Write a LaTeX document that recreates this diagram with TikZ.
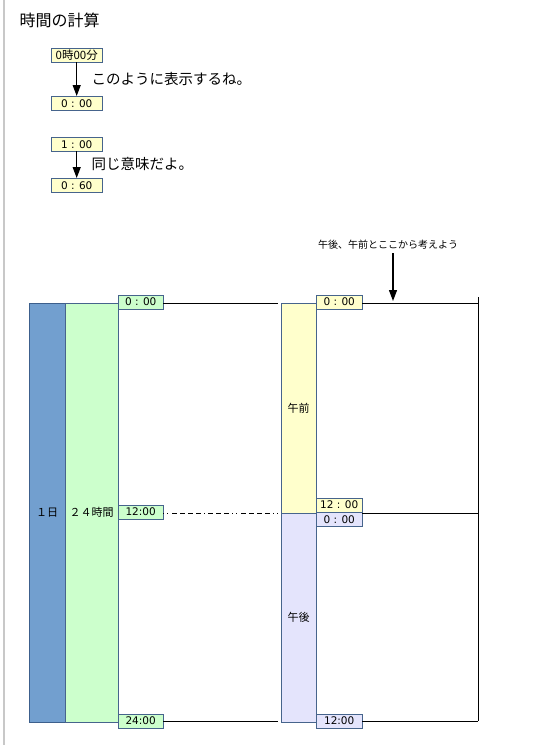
\documentclass[tikz,border=0pt]{standalone}
\usepackage{fontspec}
\setmainfont{Noto Sans CJK JP}
\newfontfamily\timefont{DejaVu Sans}
\usetikzlibrary{arrows.meta,positioning}

\definecolor{boxline}{RGB}{70,100,140}
\definecolor{daycol}{RGB}{114,159,207}
\definecolor{dayline}{RGB}{60,95,140}
\definecolor{hourcol}{RGB}{204,255,204}
\definecolor{amcol}{RGB}{255,255,204}
\definecolor{pmcol}{RGB}{228,228,252}
\definecolor{frame}{RGB}{200,200,200}

\tikzset{
  tbox/.style={draw=boxline, inner sep=0pt, minimum width=51pt, minimum height=14pt,
    anchor=north west, font=\timefont\fontsize{10.5}{11}\selectfont},
  tlab/.style={draw=boxline, inner sep=0pt, minimum width=45pt, minimum height=14pt,
    font=\timefont\fontsize{10.5}{11}\selectfont},
  band/.style={draw=boxline, inner sep=0pt, anchor=north west, font=\fontsize{11}{12}\selectfont},
  arr/.style={-{Triangle[width=8pt,length=11pt]}, line width=1.2pt},
  rule/.style={line width=0.8pt}
}

\begin{document}
\begin{tikzpicture}[x=1pt, y=-1pt]
  \useasboundingbox (0,0) rectangle (540,745);
  \fill[white] (0,0) rectangle (540,745);
  % page edge
  \draw[frame, line width=1.5pt] (4,0) -- (4,745);

  % title
  \node (title) [anchor=west, font=\fontsize{16}{18}\selectfont] at (16,20) {時間の計算};

  % how times are written
  \node (fmt) [tbox, fill=amcol, font=\fontsize{11.5}{12}\selectfont] at (51,48) {0時00分};
  \node (fmt0) [tbox, fill=amcol] at (51,96) {0 : 00};
  \draw[arr] (fmt) -- (fmt0);
  \node (say1) [anchor=west, font=\fontsize{14.5}{16}\selectfont] at (88,79) {このように表示するね。};

  \node (one) [tbox, fill=amcol] at (51,137) {1 : 00};
  \node (sixty) [tbox, fill=amcol] at (51,178) {0 : 60};
  \draw[arr] (one) -- (sixty);
  \node (say2) [anchor=west, font=\fontsize{14.5}{16}\selectfont] at (88,164) {同じ意味だよ。};

  % one day / 24 hours
  \node (day) [band, draw=dayline, fill=daycol, minimum width=36pt, minimum height=419pt] at (29,303) {１日};
  \node (hours) [band, fill=hourcol, minimum width=53pt, minimum height=419pt] at (65,303) {２４時間};

  \node (h0) [tlab, fill=hourcol, anchor=west] at (118,302) {0 : 00};
  \node (h12) [tlab, fill=hourcol, anchor=west] at (118,512) {12:00};
  \node (h24) [tlab, fill=hourcol, anchor=west] at (118,721) {24:00};

  \coordinate (l0) at (278,303);
  \coordinate (l12) at (278,513);
  \coordinate (l24) at (278,721);
  \draw[rule] (h0.east |- l0) -- (l0);
  \draw[rule, dash pattern=on 1pt off 3pt on 1pt off 4pt on 5pt off 3pt on 5pt off 3pt on 5pt off 3pt
    on 5pt off 3pt on 1pt off 3pt on 5pt off 3pt on 5pt off 3pt on 5pt off 3pt]
    (h12.east |- l12) -- (l12);
  \draw[rule] (h24.east |- l24) -- (l24);

  % morning / afternoon
  \node (am) [band, fill=amcol, minimum width=35pt, minimum height=210pt] at (281,303) {午前};
  \node (pm) [band, fill=pmcol, minimum width=35pt, minimum height=209pt] at (281,513) {午後};

  \node (a0) [tlab, fill=amcol, minimum width=46pt, anchor=west] at (316,302) {0 : 00};
  \node (a12) [tlab, fill=amcol, minimum width=46pt, anchor=south west] at (316,512) {12 : 00};
  \node (p0) [tlab, fill=pmcol, minimum width=46pt, anchor=north west] at (316,512) {0 : 00};
  \node (p12) [tlab, fill=pmcol, minimum width=46pt, anchor=west] at (316,721) {12:00};

  \coordinate (r0) at (478,303);
  \coordinate (r12) at (478,513);
  \coordinate (r24) at (478,721);
  \coordinate (rtop) at (478,297);
  \draw[rule] (a0.east |- r0) -- (r0);
  \draw[rule] (a12.east |- r12) -- (r12);
  \draw[rule] (p12.east |- r24) -- (r24);
  \draw[rule] (rtop) -- (r24);

  % hint
  \node (hint) [font=\fontsize{10}{12}\selectfont] at (388,245) {午後、午前とここから考えよう};
  \coordinate (aim) at (393,301);
  \draw[arr] (hint.south -| aim) -- (aim);
\end{tikzpicture}
\end{document}
